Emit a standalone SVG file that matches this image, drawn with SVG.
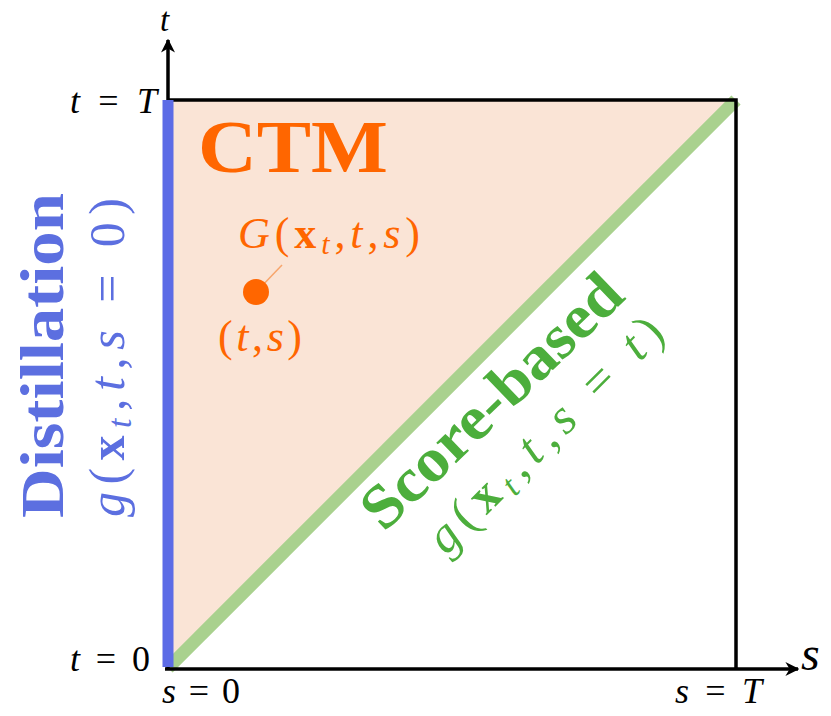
<svg xmlns="http://www.w3.org/2000/svg" width="831" height="716" viewBox="0 0 831 716">
<defs>
<style>
.m{font-family:"Liberation Serif","DejaVu Serif",serif;}
.i{font-style:italic;}
.b{font-weight:bold;}
.ax{stroke:#000;stroke-width:3.5;fill:none;}
.lbl{font-size:36px;fill:#000;}
</style>
<marker id="arr" viewBox="0 0 10 10" refX="9" refY="5" markerWidth="4" markerHeight="4" orient="auto" markerUnits="strokeWidth">
<path d="M0,0 L10,5 L0,10 L3,5 Z" fill="#000"/>
</marker>
</defs>
<rect width="831" height="716" fill="#fff"/>
<g id="ctm-region">
<polygon points="168,100 736,100 168,668" fill="#fae4d6"/>
</g>
<g id="connectors">
<line x1="168" y1="668" x2="736" y2="100" stroke="#a9d18e" stroke-width="13"/>
<polyline class="ax" points="168,100 736,100 736,668"/>
<line class="ax" x1="165" y1="669" x2="798" y2="669" marker-end="url(#arr)"/>
<line class="ax" x1="168" y1="669" x2="168" y2="40" marker-end="url(#arr)"/>
<line x1="168" y1="100" x2="168" y2="667" stroke="#5c6be6" stroke-width="11"/>
<line x1="258" y1="290" x2="282" y2="265" stroke="#f7a56c" stroke-width="1.5"/>
</g>
<g id="axis-labels" class="m">
<text x="160" y="31" class="i" font-size="33">t</text>
<text x="801" y="670" class="i" font-size="48">s</text>
<text x="70" y="113" class="lbl" textLength="87"><tspan class="i">t</tspan> = <tspan class="i">T</tspan></text>
<text x="70" y="671" class="lbl" textLength="80"><tspan class="i">t</tspan> = 0</text>
<text x="162" y="703" class="lbl" textLength="78"><tspan class="i">s</tspan> = 0</text>
<text x="675" y="703" class="lbl" textLength="87"><tspan class="i">s</tspan> = <tspan class="i">T</tspan></text>
</g>
<g id="ctm" class="m">
<text x="198" y="172" font-size="74" class="b" fill="#ff6600" textLength="190" lengthAdjust="spacingAndGlyphs">CTM</text>
</g>
<g id="point" class="m" fill="#ff6600">
<circle cx="256" cy="292" r="13" fill="#ff6600"/>
<text x="238" y="248" font-size="44" textLength="182"><tspan class="i">G</tspan>(<tspan class="b">x</tspan><tspan class="i" font-size="30" dy="6">t</tspan><tspan dy="-6">,</tspan><tspan class="i">t</tspan>,<tspan class="i">s</tspan>)</text>
<text x="218" y="351" font-size="44" textLength="84">(<tspan class="i">t</tspan>,<tspan class="i">s</tspan>)</text>
</g>
<g id="distillation" class="m" fill="#5c6fe0">
<text transform="translate(63,518) rotate(-90)" font-size="62" class="b" textLength="325" lengthAdjust="spacingAndGlyphs">Distillation</text>
<text transform="translate(124,517) rotate(-90)" font-size="50" textLength="319"><tspan class="i">g</tspan>(<tspan class="b">x</tspan><tspan class="i" font-size="34" dy="7">t</tspan><tspan dy="-7">,</tspan><tspan class="i">t</tspan>,<tspan class="i">s</tspan> = 0)</text>
</g>
<g id="score-based" class="m" fill="#4cae3c">
<text transform="translate(384,533) rotate(-44)" font-size="62" class="b" textLength="338" lengthAdjust="spacingAndGlyphs">Score-based</text>
<text transform="translate(446,556) rotate(-45)" font-size="50" textLength="312"><tspan class="i">g</tspan>(<tspan class="b">x</tspan><tspan class="i" font-size="34" dy="7">t</tspan><tspan dy="-7">,</tspan><tspan class="i">t</tspan>,<tspan class="i">s</tspan> = <tspan class="i">t</tspan>)</text>
</g>
</svg>
